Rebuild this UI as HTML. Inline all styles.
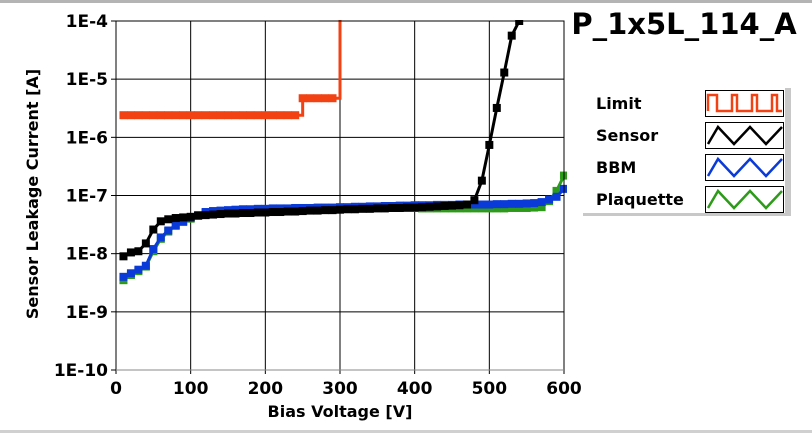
<!DOCTYPE html>
<html><head><meta charset="utf-8"><style>
html,body{margin:0;padding:0;background:#fff;width:812px;height:433px;overflow:hidden}
svg text{font-family:"DejaVu Sans","Liberation Sans",sans-serif;font-weight:bold;fill:#000}
</style></head><body>
<svg id="chart" width="812" height="433" xmlns="http://www.w3.org/2000/svg">
<rect x="0" y="0" width="812" height="3" fill="#b4b4b4"/>
<rect x="0" y="430" width="812" height="3" fill="#d0d0d0"/>
<text x="684" y="34" font-size="29" text-anchor="middle">P_1x5L_114_A</text>
<g id="grid"></g>
<g id="series"></g>
<g id="axes"></g>
<text x="340" y="417" font-size="16" text-anchor="middle">Bias Voltage [V]</text>
<text transform="translate(38,194) rotate(-90)" font-size="16" text-anchor="middle">Sensor Leakage Current [A]</text>
<g>
<rect x="785" y="88" width="6" height="127" fill="#c8c8c8"/>
<rect x="583" y="213" width="208" height="3" fill="#c8c8c8"/>
<g id="legend"></g>
</g>
</svg>
<script>
const voltages = [];
for (let v = 10; v <= 600; v += 10) voltages.push(v);
const sensorI = [9e-9,1.05e-8,1.1e-8,1.5e-8,2.6e-8,3.6e-8,3.9e-8,4.1e-8,4.2e-8,4.3e-8,
4.5e-8,4.6e-8,4.7e-8,4.8e-8,4.9e-8,4.9e-8,5.0e-8,5.0e-8,5.1e-8,5.1e-8,
5.2e-8,5.2e-8,5.3e-8,5.3e-8,5.4e-8,5.5e-8,5.5e-8,5.6e-8,5.6e-8,5.7e-8,
5.8e-8,5.8e-8,5.9e-8,5.9e-8,6.0e-8,6.0e-8,6.1e-8,6.1e-8,6.2e-8,6.2e-8,
6.3e-8,6.4e-8,6.5e-8,6.6e-8,6.7e-8,6.8e-8,7.0e-8,8.3e-8,1.8e-7,7.4e-7,
3.2e-6,1.3e-5,5.6e-5,1e-4];
const bbmI = [4e-9,4.6e-9,5.3e-9,6.2e-9,1.2e-8,1.9e-8,2.5e-8,3.1e-8,3.6e-8,4.1e-8,
4.6e-8,5.2e-8,5.4e-8,5.5e-8,5.6e-8,5.7e-8,5.8e-8,5.8e-8,5.9e-8,5.9e-8,
6.0e-8,6.0e-8,6.0e-8,6.1e-8,6.1e-8,6.1e-8,6.2e-8,6.2e-8,6.2e-8,6.3e-8,
6.3e-8,6.4e-8,6.4e-8,6.5e-8,6.5e-8,6.6e-8,6.6e-8,6.7e-8,6.7e-8,6.8e-8,
6.8e-8,6.8e-8,6.9e-8,6.9e-8,6.9e-8,7.0e-8,7.0e-8,7.0e-8,7.0e-8,7.0e-8,
7.1e-8,7.1e-8,7.2e-8,7.2e-8,7.3e-8,7.4e-8,7.7e-8,8.5e-8,9.5e-8,1.3e-7];
const plaquetteI = [3.5e-9,4.3e-9,5e-9,6e-9,1.1e-8,1.8e-8,2.4e-8,3.0e-8,3.5e-8,4.0e-8,
4.5e-8,5.0e-8,5.3e-8,5.4e-8,5.5e-8,5.6e-8,5.7e-8,5.7e-8,5.8e-8,5.8e-8,
5.9e-8,5.9e-8,5.9e-8,6.0e-8,6.0e-8,6.0e-8,6.1e-8,6.1e-8,6.1e-8,6.2e-8,
6.2e-8,6.2e-8,6.2e-8,6.2e-8,6.2e-8,6.2e-8,6.2e-8,6.2e-8,6.1e-8,6.1e-8,
6.0e-8,6.0e-8,6.0e-8,6.0e-8,6.0e-8,6.0e-8,6.0e-8,6.0e-8,6.0e-8,6.0e-8,
6.0e-8,6.0e-8,6.1e-8,6.1e-8,6.1e-8,6.2e-8,6.3e-8,8e-8,1.2e-7,2.2e-7];
const limitV = [10,20,30,40,50,60,70,80,90,100,110,120,130,140,150,160,170,180,190,200,210,220,230,240,250,260,270,280,290,300];
const limitI = [2.4e-6,2.4e-6,2.4e-6,2.4e-6,2.4e-6,2.4e-6,2.4e-6,2.4e-6,2.4e-6,2.4e-6,2.4e-6,2.4e-6,2.4e-6,2.4e-6,2.4e-6,2.4e-6,2.4e-6,2.4e-6,2.4e-6,2.4e-6,2.4e-6,2.4e-6,2.4e-6,2.4e-6,4.7e-6,4.7e-6,4.7e-6,4.7e-6,4.7e-6,1e-3];
const xTicks = [0,100,200,300,400,500,600];
const yTickExp = [-4,-5,-6,-7,-8,-9,-10];
const yTickLabels = ["1E-4","1E-5","1E-6","1E-7","1E-8","1E-9","1E-10"];

const NS = "http://www.w3.org/2000/svg";
const L = 116, R = 564, T = 21, B = 370;
const xS = v => L + (v - 0) / 600 * (R - L);
const yS = i => T + (-4 - Math.log10(i)) / 6 * (B - T);
function mk(tag, attrs, parent) { const e = document.createElementNS(NS, tag); for (const k in attrs) e.setAttribute(k, attrs[k]); parent.appendChild(e); return e; }

const grid = document.getElementById('grid'), axes = document.getElementById('axes'), ser = document.getElementById('series');
xTicks.forEach(v => {
  const g = mk('line', {x1: xS(v), x2: xS(v), y1: T, y2: B, stroke: '#000', 'stroke-width': 1}, grid);
  
  
  mk('line', {x1: xS(v), x2: xS(v), y1: B, y2: B + 4, stroke: '#000'}, axes);
  const t = mk('text', {x: xS(v), y: 394, 'font-size': 17, 'text-anchor': 'middle'}, axes);
  t.textContent = v;
  
  
});
yTickExp.forEach((e, i) => {
  const y = yS(Math.pow(10, e));
  const g = mk('line', {x1: L, x2: R, y1: y, y2: y, stroke: '#000', 'stroke-width': 1}, grid);
  
  
  mk('line', {x1: L - 5, x2: L, y1: y, y2: y, stroke: '#000'}, axes);
  const t = mk('text', {x: 108, y: y + 6, 'font-size': 17, 'text-anchor': 'end'}, axes);
  t.textContent = yTickLabels[i];
  
  
});
mk('rect', {x: L, y: T, width: R - L, height: B - T, fill: 'none', stroke: '#000'}, axes);
mk('line', {x1: L, x2: R, y1: B, y2: B, stroke: '#888'}, axes);

const clip = mk('clipPath', {id: 'pc'}, ser);
mk('rect', {x: L, y: T - 1, width: R - L + 3, height: B - T + 1}, clip);

function drawSeries(xs, ys, color, name, step) {
  const g = mk('g', {'clip-path': 'url(#pc)'}, ser);
  
  
  let d = '';
  xs.forEach((v, i) => {
    if (i >= ys.length) return;
    const x = xS(v), y = yS(ys[i]);
    if (i === 0) d += 'M' + x + ' ' + y;
    else if (step) d += 'H' + x + 'V' + y;
    else d += 'L' + x + ' ' + y;
  });
  const p = mk('path', {d: d, fill: 'none', stroke: color, 'stroke-width': 3}, g);
  
  
  xs.forEach((v, i) => {
    if (i >= ys.length) return;
    const m = mk('rect', {x: xS(v) - 4, y: yS(ys[i]) - 4, width: 8, height: 8, fill: color}, g);
    
    
  });
}
drawSeries(voltages, plaquetteI, '#2e9a1a', 'plaquette', false);
drawSeries(voltages, bbmI, '#0a3ad8', 'bbm', false);
drawSeries(voltages, sensorI, '#000000', 'sensor', false);
drawSeries(limitV, limitI, '#f24214', 'limit', true);

const leg = document.getElementById('legend');
const entries = [['Limit', '#f24214', 'sq'], ['Sensor', '#000', 'tri'], ['BBM', '#0a3ad8', 'tri'], ['Plaquette', '#2e9a1a', 'tri']];
entries.forEach((en, i) => {
  const y0 = 90 + i * 32;
  const g = mk('g', {}, leg);
  
  
  const t = mk('text', {x: 596, y: y0 + 19, 'font-size': 16}, g);
  t.textContent = en[0];
  mk('rect', {x: 705.5, y: y0 + 0.5, width: 78, height: 26, fill: '#fff', stroke: '#000'}, g);
  let d;
  if (en[2] === 'sq') d = `M708 ${y0+21}V${y0+5}H717V${y0+21}H732V${y0+5}H737V${y0+21}H752V${y0+5}H757V${y0+21}H772V${y0+5}H777V${y0+21}H782`;
  else d = `M708 ${y0+22}L718 ${y0+5}L734 ${y0+22}L750 ${y0+5}L766 ${y0+22}L782 ${y0+5}`;
  mk('path', {d: d, fill: 'none', stroke: en[1], 'stroke-width': 2.5}, g);
});
</script>
</body></html>
